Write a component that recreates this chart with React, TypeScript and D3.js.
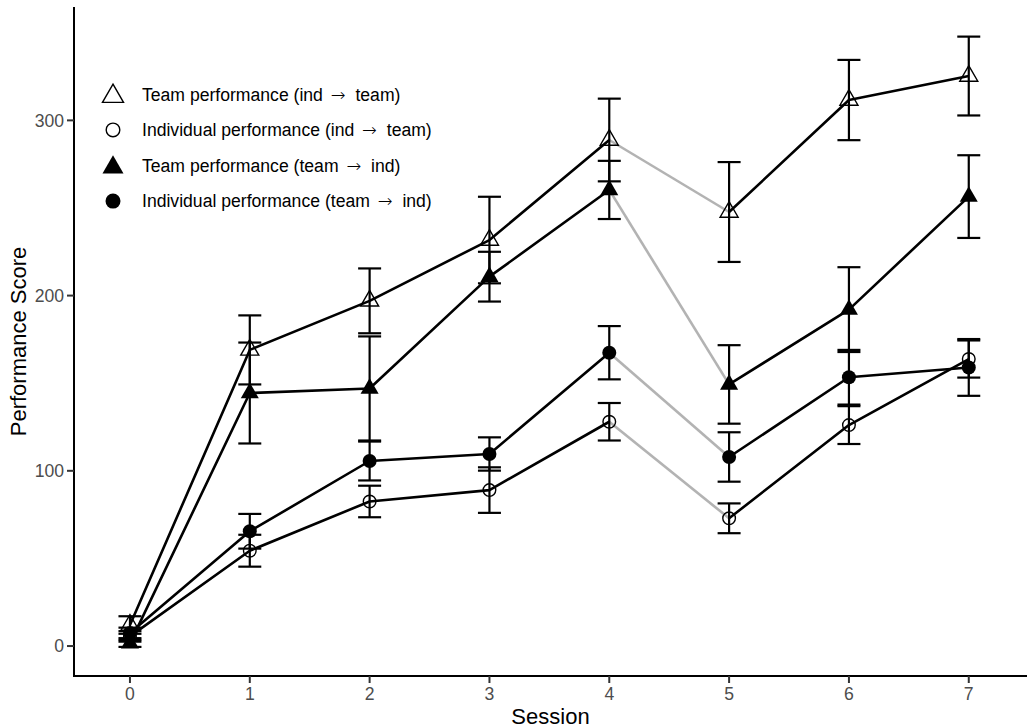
import React from "react";
import * as d3 from "d3";

const sessions = [0, 1, 2, 3, 4, 5, 6, 7];

const teamIndTeam = [12, 169, 197, 231.7, 288.8, 247.7, 311.6, 325.3];
const teamIndTeamSe = [5, 19.7, 18.5, 24.7, 23.6, 28.5, 22.9, 22.5];

const indivIndTeam = [5.5, 54.4, 82.5, 89, 128, 72.9, 126.1, 163.8];
const indivIndTeamSe = [3, 9.1, 9, 13, 10.7, 8.5, 10.8, 10.6];

const teamTeamInd = [1.5, 144.4, 147, 210.8, 260.3, 149.3, 192, 256.5];
const teamTeamIndSe = [2, 28.8, 29.7, 14.2, 16.6, 22.4, 24.2, 23.6];

const indivTeamInd = [7.5, 65.5, 105.6, 109.6, 167.4, 107.9, 153.4, 159];
const indivTeamIndSe = [3, 9.9, 11.1, 9.5, 15.2, 14.1, 15.6, 16.2];

const yTicks = [0, 100, 200, 300];
const legendParts: [string, string][] = [
  ["Team performance (ind", "team)"],
  ["Individual performance (ind", "team)"],
  ["Team performance (team", "ind)"],
  ["Individual performance (team", "ind)"],
];

type Shape = "openTri" | "openCirc" | "fillTri" | "fillCirc";

const series: { vals: number[]; se: number[]; shape: Shape }[] = [
  { vals: teamIndTeam, se: teamIndTeamSe, shape: "openTri" },
  { vals: indivIndTeam, se: indivIndTeamSe, shape: "openCirc" },
  { vals: teamTeamInd, se: teamTeamIndSe, shape: "fillTri" },
  { vals: indivTeamInd, se: indivTeamIndSe, shape: "fillCirc" },
];

const W = 1027;
const H = 728;
const panelLeft = 74;
const panelRight = 1027;
const panelTop = 7;
const panelBottom = 676;

const x = d3.scaleLinear().domain([-0.467, 7.486]).range([panelLeft, panelRight]);
const y = d3.scaleLinear().domain([-17.1, 364.7]).range([panelBottom, panelTop]);

const FONT = "'Liberation Sans', Arial, Helvetica, sans-serif";
const TXT = 17.6;
const TITLE = 22;

function triPath(cx: number, cy: number, xc: number) {
  const r = 1.555 * xc;
  const yc = 0.778 * xc;
  const hw = 1.347 * xc;
  return `M${cx},${cy - r}L${cx + hw},${cy + yc}L${cx - hw},${cy + yc}Z`;
}

function Marker({ shape, cx, cy, big }: { shape: Shape; cx: number; cy: number; big?: boolean }) {
  const xc = big ? 7.8 : 6.7;
  const rc = big ? 7.5 : 7;
  if (shape === "openTri")
    return <path d={triPath(cx, cy, xc)} fill="none" stroke="#000" strokeWidth={1.4} />;
  if (shape === "fillTri") return <path d={triPath(cx, cy, xc)} fill="#000" />;
  if (shape === "openCirc")
    return <circle cx={cx} cy={cy} r={rc - 0.7} fill="none" stroke="#000" strokeWidth={1.4} />;
  return <circle cx={cx} cy={cy} r={rc} fill="#000" />;
}

export default function App() {
  const line = d3
    .line<[number, number]>()
    .x((d) => x(d[0]))
    .y((d) => y(d[1]));

  const segs = (vals: number[]) => {
    const pts: [number, number][] = sessions.map((s, i) => [s, vals[i]]);
    return {
      a: line(pts.slice(0, 5)) || "",
      g: line(pts.slice(4, 6)) || "",
      b: line(pts.slice(5)) || "",
    };
  };

  const capHalf = 11.5;

  return (
    <svg
      width={W}
      height={H}
      style={{ position: "absolute", left: 0, top: 0, background: "#fff" }}
      fontFamily={FONT}
    >
      <rect x={0} y={0} width={W} height={H} fill="#fff" />
      {/* lines */}
      {series.map((s, k) => {
        const p = segs(s.vals);
        return (
          <g key={"l" + k} fill="none" strokeLinejoin="round">
            <path d={p.g} stroke="#b3b3b3" strokeWidth={2.6} />
            <path d={p.a} stroke="#000" strokeWidth={2.6} />
            <path d={p.b} stroke="#000" strokeWidth={2.6} />
          </g>
        );
      })}
      {/* error bars */}
      {series.map((s, k) => (
        <g key={"e" + k} stroke="#000" strokeWidth={2.2} fill="none">
          {sessions.map((ss, i) => {
            const cx = x(ss);
            const y1 = y(s.vals[i] + s.se[i]);
            const y2 = y(s.vals[i] - s.se[i]);
            return (
              <g key={i}>
                <line x1={cx} x2={cx} y1={y1} y2={y2} />
                <line x1={cx - capHalf} x2={cx + capHalf} y1={y1} y2={y1} />
                <line x1={cx - capHalf} x2={cx + capHalf} y1={y2} y2={y2} />
              </g>
            );
          })}
        </g>
      ))}
      {/* points */}
      {series.map((s, k) => (
        <g key={"p" + k}>
          {sessions.map((ss, i) => (
            <Marker key={i} shape={s.shape} cx={x(ss)} cy={y(s.vals[i])} />
          ))}
        </g>
      ))}
      {/* axes */}
      <line x1={panelLeft} x2={panelLeft} y1={panelTop} y2={panelBottom + 1} stroke="#000" strokeWidth={2} />
      <line x1={panelLeft - 1} x2={panelRight} y1={panelBottom} y2={panelBottom} stroke="#000" strokeWidth={2} />
      {yTicks.map((t) => (
        <g key={"yt" + t}>
          <line x1={panelLeft - 7} x2={panelLeft} y1={y(t)} y2={y(t)} stroke="#333" strokeWidth={2} />
          <text
            x={panelLeft - 10}
            y={y(t)}
            dy="0.36em"
            textAnchor="end"
            fontSize={TXT}
            fill="#4d4d4d"
          >
            {t}
          </text>
        </g>
      ))}
      {sessions.map((t) => (
        <g key={"xt" + t}>
          <line x1={x(t)} x2={x(t)} y1={panelBottom} y2={panelBottom + 7} stroke="#333" strokeWidth={2} />
          <text x={x(t)} y={panelBottom + 17.5} dy="0.36em" textAnchor="middle" fontSize={TXT} fill="#4d4d4d">
            {t}
          </text>
        </g>
      ))}
      <text x={(panelLeft + panelRight) / 2} y={723.5} textAnchor="middle" fontSize={TITLE} fill="#000">
        Session
      </text>
      <text
        transform={`translate(25.5,${(panelTop + panelBottom) / 2}) rotate(-90)`}
        textAnchor="middle"
        fontSize={TITLE}
        fill="#000"
      >
        Performance Score
      </text>
      {/* legend */}
      {legendParts.map((lab, i) => {
        const cy = 94.3 + i * 35.6;
        return (
          <g key={"lg" + i}>
            <Marker shape={series[i].shape} cx={113} cy={cy + (series[i].shape.endsWith("Tri") ? 2 : 0)} big />
            <text x={142} y={cy} dy="0.36em" fontSize={TXT} fill="#000">
              {lab[0] + " "}
              <tspan fontFamily="'DejaVu Sans', sans-serif" fontWeight={300} dx={3}>
                {"\u2192"}
              </tspan>
              <tspan dx={5}>{" " + lab[1]}</tspan>
            </text>
          </g>
        );
      })}
    </svg>
  );
}
